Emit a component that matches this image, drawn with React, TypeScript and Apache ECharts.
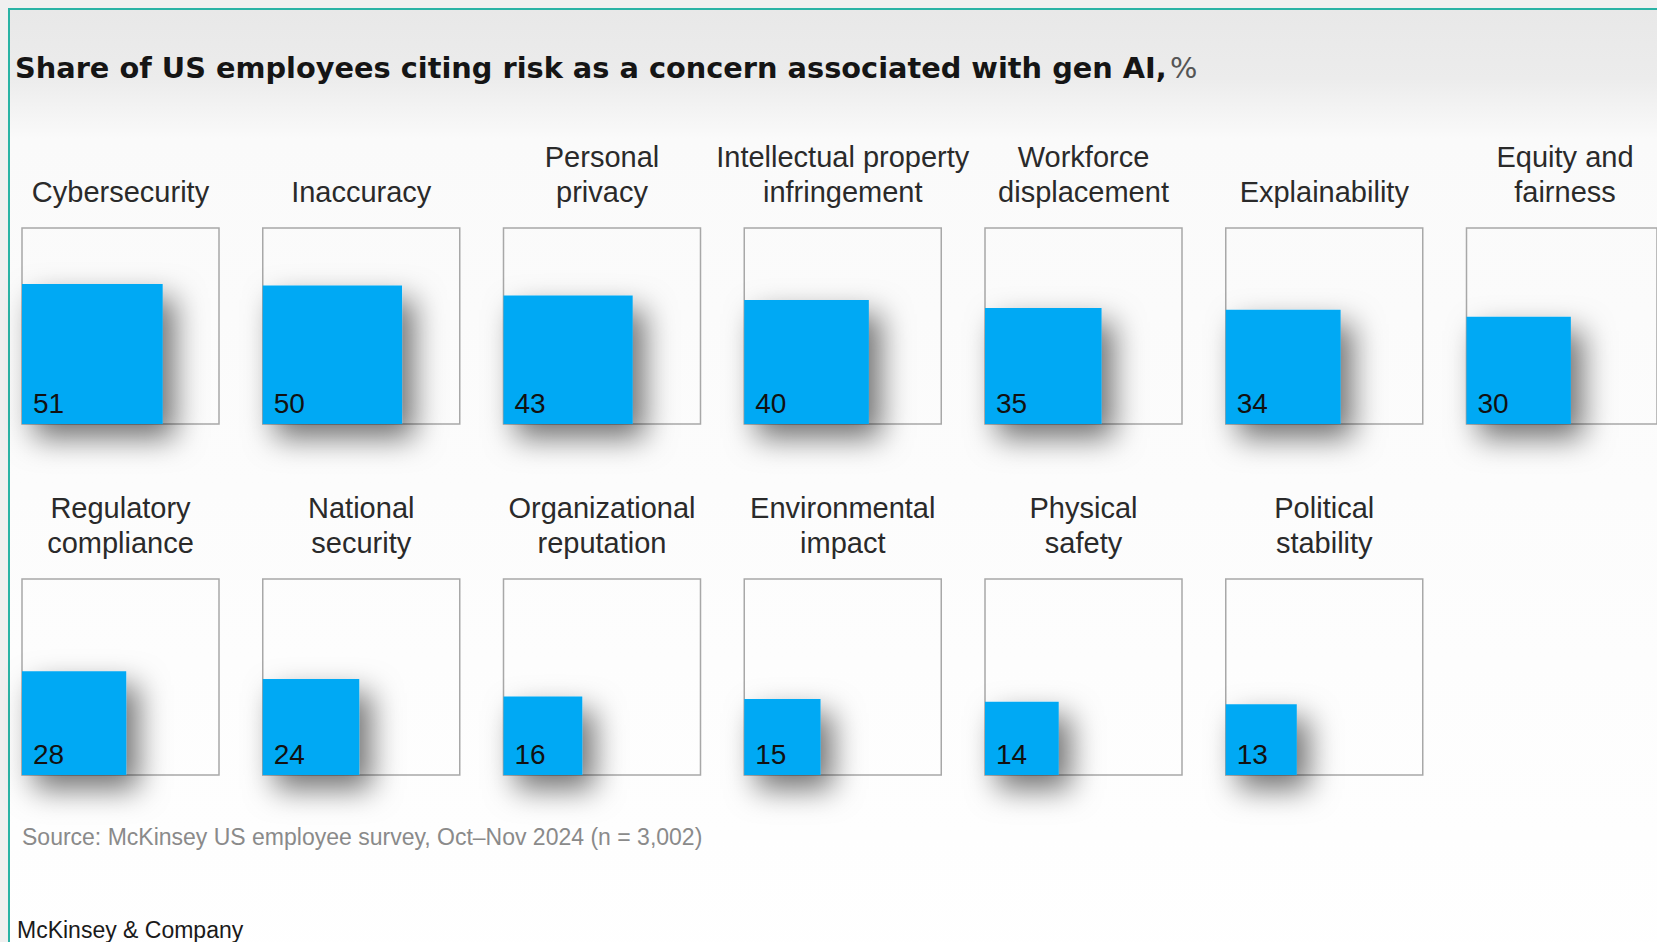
import React, { useEffect, useRef } from "react";
import * as echarts from "echarts";

const titleBold = "Share of US employees citing risk as a concern associated with gen AI,";
const titleUnit = "%";
const categoriesRow1 = [
  "Cybersecurity",
  "Inaccuracy",
  "Personal\nprivacy",
  "Intellectual property\ninfringement",
  "Workforce\ndisplacement",
  "Explainability",
  "Equity and\nfairness",
];
const valuesRow1 = [51, 50, 43, 40, 35, 34, 30];
const categoriesRow2 = [
  "Regulatory\ncompliance",
  "National\nsecurity",
  "Organizational\nreputation",
  "Environmental\nimpact",
  "Physical\nsafety",
  "Political\nstability",
];
const valuesRow2 = [28, 24, 16, 15, 14, 13];
const sourceText = "Source: McKinsey US employee survey, Oct\u2013Nov 2024 (n = 3,002)";
const brandText = "McKinsey & Company";

const FONT = '"Liberation Sans", Arial, sans-serif';
const TITLE_FONT = '"DejaVu Sans", "Liberation Sans", sans-serif';

export default function App() {
  const ref = useRef<HTMLDivElement>(null);
  useEffect(() => {
    if (!ref.current) return;
    const chart = echarts.init(ref.current, undefined, { renderer: "svg" });

    const BOX_W = 197;
    const BOX_H = 196;
    const STEP = 240.75;
    const LEFT0 = 22;
    const TOPS = [228, 579];

    const items: { cat: string; val: number; row: number; col: number }[] = [];
    categoriesRow1.forEach((c, i) => items.push({ cat: c, val: valuesRow1[i], row: 0, col: i }));
    categoriesRow2.forEach((c, i) => items.push({ cat: c, val: valuesRow2[i], row: 1, col: i }));

    const grids: any[] = [];
    const xAxes: any[] = [];
    const yAxes: any[] = [];
    const series: any[] = [];
    const graphics: any[] = [
      {
        type: "rect",
        z: -100,
        shape: { x: 0, y: 0, width: 1657, height: 942 },
        style: { fill: "#f0f0f0" },
      },
      {
        type: "rect",
        z: -99,
        shape: { x: 9, y: 9, width: 1700, height: 1000 },
        style: {
          fill: new echarts.graphic.LinearGradient(0, 0, 0, 1, [
            { offset: 0, color: "#e8e8e8" },
            { offset: 0.07, color: "#ececec" },
            { offset: 0.13, color: "#fafafa" },
            { offset: 1, color: "#ffffff" },
          ]),
          stroke: "#2ab3a5",
          lineWidth: 2,
        },
      },
      {
        type: "text",
        x: 15,
        y: 68,
        style: {
          text: `{b|${titleBold}} {r|${titleUnit}}`,
          textVerticalAlign: "middle",
          textAlign: "left",
          rich: {
            b: { fontFamily: TITLE_FONT, fontWeight: "bold", fontSize: 28.8, fill: "#151515", color: "#151515" },
            r: { fontFamily: TITLE_FONT, fontWeight: "normal", fontSize: 28.8, fill: "#555", color: "#555" },
          },
        },
      },
      {
        type: "text",
        x: 22,
        y: 837,
        style: {
          text: sourceText,
          font: `23px ${FONT}`,
          fill: "#8a8a8a",
          textAlign: "left",
          textVerticalAlign: "middle",
        },
      },
      {
        type: "text",
        x: 17,
        y: 930,
        style: {
          text: brandText,
          font: `23px ${FONT}`,
          fill: "#1a1a1a",
          textAlign: "left",
          textVerticalAlign: "middle",
        },
      },
    ];

    items.forEach((it, idx) => {
      const left = LEFT0 + it.col * STEP;
      const top = TOPS[it.row];
      grids.push({
        left,
        top,
        width: BOX_W,
        height: BOX_H,
        show: true,
        borderColor: "#a8a8a8",
        borderWidth: 1.5,
        backgroundColor: "transparent",
      });
      xAxes.push({ type: "value", gridIndex: idx, min: 0, max: 10, show: false });
      yAxes.push({ type: "value", gridIndex: idx, min: 0, max: 10, show: false });
      series.push({
        type: "custom",
        xAxisIndex: idx,
        yAxisIndex: idx,
        data: [[it.val, 0]],
        renderItem: (params: any, api: any) => {
          const v = api.value(0);
          const s = Math.sqrt(v);
          const p0 = api.coord([0, 0]);
          const p1 = api.coord([s, s]);
          return {
            type: "group",
            children: [
              {
                type: "rect",
                shape: { x: p0[0], y: p1[1], width: p1[0] - p0[0], height: p0[1] - p1[1] },
                style: {
                  fill: "#00a9f4",
                  shadowBlur: 30,
                  shadowColor: "rgba(0,0,0,0.55)",
                  shadowOffsetX: 12,
                  shadowOffsetY: 14,
                },
              },
              {
                type: "text",
                z2: 10,
                style: {
                  text: String(v),
                  x: p0[0] + 11,
                  y: p0[1] - 21,
                  fill: "#111",
                  font: `28px ${FONT}`,
                  textAlign: "left",
                  textVerticalAlign: "middle",
                },
              },
            ],
          };
        },
      });
      const lines = it.cat.split("\n").length;
      const baseMid = top - 36;
      graphics.push({
        type: "text",
        x: left + BOX_W / 2,
        y: lines === 2 ? baseMid - 17.5 : baseMid,
        style: {
          text: it.cat,
          font: `29px ${FONT}`,
          lineHeight: 35,
          fill: "#2a2a2a",
          textAlign: "center",
          textVerticalAlign: "middle",
        },
      });
    });

    chart.setOption({
      animation: false,
      backgroundColor: "#f0f0f0",
      grid: grids,
      xAxis: xAxes,
      yAxis: yAxes,
      series,
      graphic: { elements: graphics },
    });
    return () => chart.dispose();
  }, []);
  return (
    <div
      ref={ref}
      style={{ position: "fixed", left: 0, top: 0, width: 1657, height: 942 }}
    />
  );
}
